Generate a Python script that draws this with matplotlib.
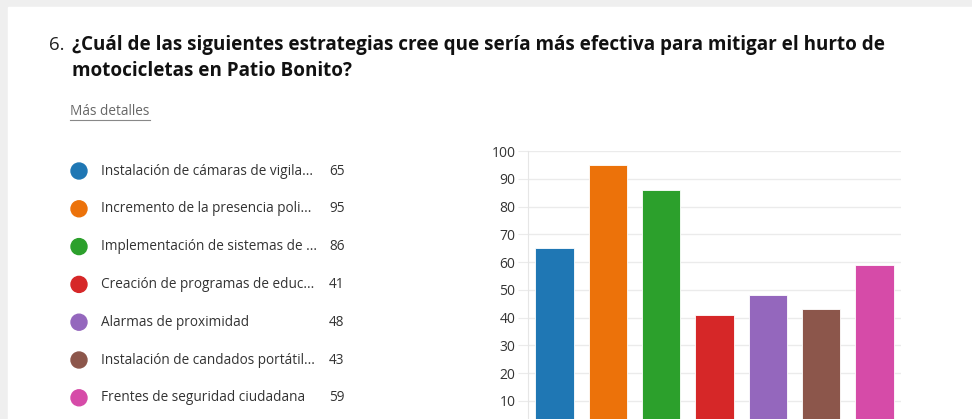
import matplotlib
matplotlib.use("Agg")
import matplotlib.pyplot as plt
from matplotlib.patches import Rectangle, Circle

# data
labels = ["Instalación de cámaras de vigila...",
          "Incremento de la presencia poli...",
          "Implementación de sistemas de ...",
          "Creación de programas de educ...",
          "Alarmas de proximidad",
          "Instalación de candados portátil...",
          "Frentes de seguridad ciudadana"]
counts = [65, 95, 86, 41, 48, 43, 59]
colors = ["#1f77b4", "#ec720a", "#2ca02c", "#d62728", "#9467bd", "#8c564b", "#d64ba8"]
yticks = [10, 20, 30, 40, 50, 60, 70, 80, 90, 100]

W, H = 972, 419
fig = plt.figure(figsize=(W / 100, H / 100), dpi=100)
plt.rcParams['font.family'] = ['Open Sans', 'DejaVu Sans']

def fx(px):
    return px / W

def fy(py):
    return 1 - py / H

# card background with grey frame
bg = fig.add_axes([0, 0, 1, 1])
bg.set_xlim(0, W)
bg.set_ylim(H, 0)
bg.axis("off")
bg.add_patch(Rectangle((0, 0), W, H, color="#efefef", zorder=0))
bg.add_patch(Rectangle((8, 7), W, H, color="white", zorder=1))

# question title
fig.text(fx(49), fy(45), "6.", fontsize=13.5, color="#222222", va="center", ha="left")
fig.text(fx(72), fy(45), "¿Cuál de las siguientes estrategias cree que sería más efectiva para mitigar el hurto de",
         fontsize=13.6, fontweight="bold", color="#111111", va="center", ha="left")
fig.text(fx(72), fy(71), "motocicletas en Patio Bonito?",
         fontsize=13.6, fontweight="bold", color="#111111", va="center", ha="left")
fig.text(fx(70), fy(111), "Más detalles", fontsize=9.8, color="#666666", va="center", ha="left")
bg.plot([70, 150], [120, 120], color="#888888", lw=0.8, zorder=2)

# legend list
for i, (lab, n, c) in enumerate(zip(labels, counts, colors)):
    y = 171 + i * 37.8
    bg.add_patch(Circle((79, y), 8, color=c, zorder=3))
    bg.text(101, y, lab, fontsize=9.8, color="#333333", va="center", ha="left", zorder=3)
    bg.text(329, y, str(n), fontsize=9.8, color="#333333", va="center", ha="left", zorder=3)

# bar chart, cut off at the bottom like the screenshot
ax = fig.add_axes([fx(528), 0, fx(901) - fx(528), (H - 151) / H])
x = list(range(len(counts)))
ax.bar(x, counts, width=0.72, color=colors, edgecolor="white", linewidth=0.6, zorder=3)
ax.set_xlim(-0.5, 6.5)
ax.set_ylim(3.5, 100)
ax.set_yticks(yticks)
ax.set_xticks([])
ax.grid(axis="y", color="#ebebeb", lw=1, zorder=0)
for s in ["top", "right", "bottom"]:
    ax.spines[s].set_visible(False)
ax.spines["left"].set_color("#e6e6e6")
ax.tick_params(axis="y", length=7, color="#ebebeb", labelsize=10, labelcolor="#333333", pad=2)
ax.patch.set_alpha(0)

fig.savefig("out.png", dpi=100)
